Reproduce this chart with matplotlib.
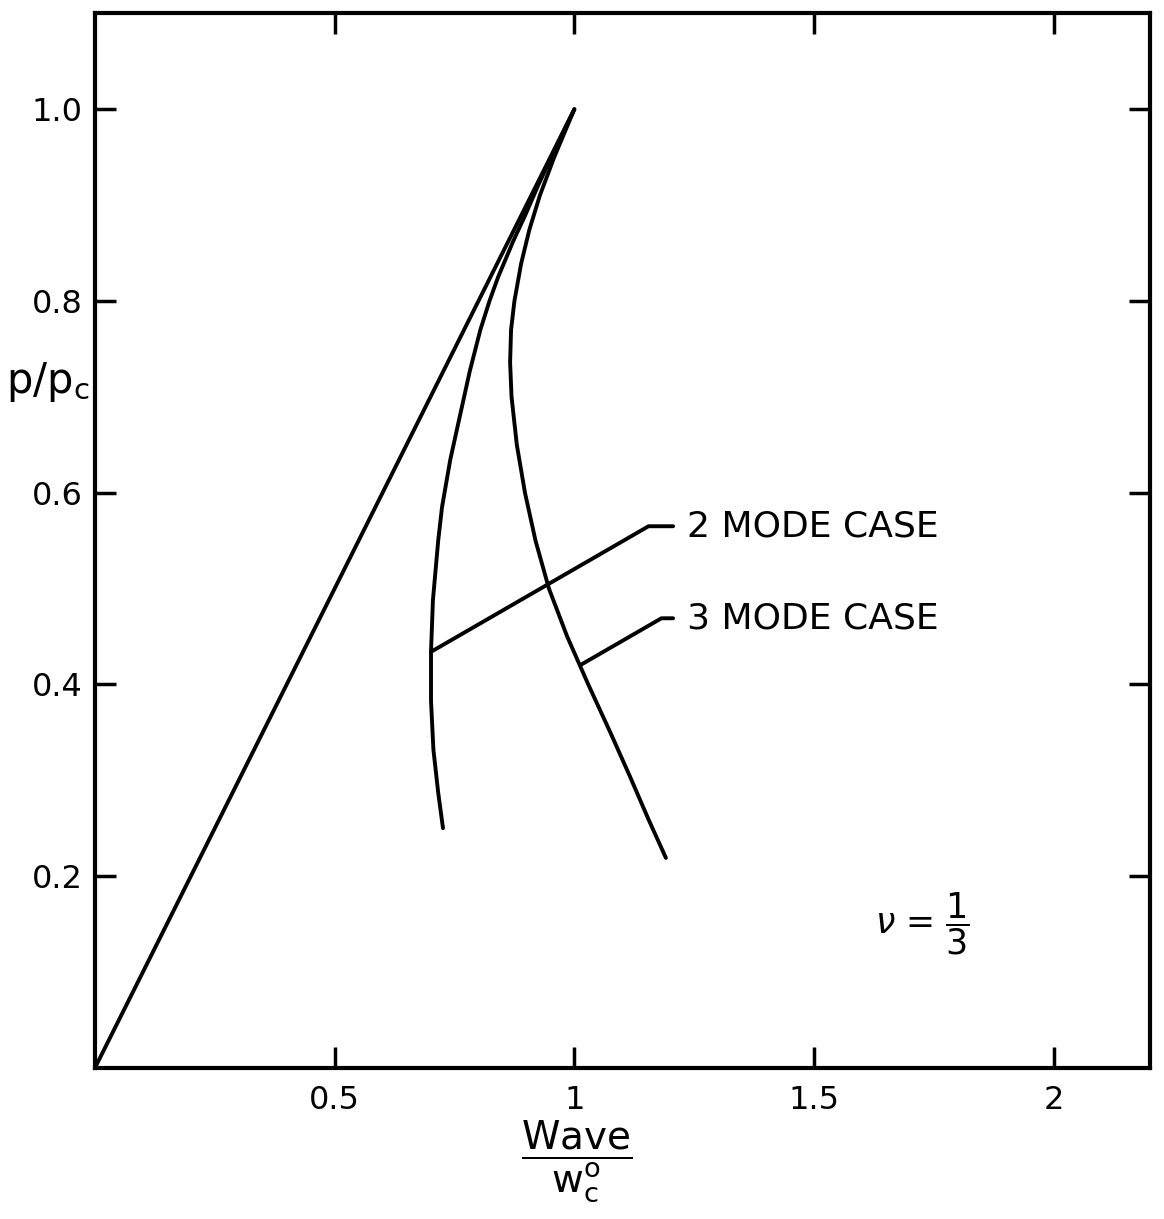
import matplotlib
matplotlib.use("Agg")
import matplotlib.pyplot as plt

# --- data ---
# straight line p/pc = Wave/wc
line_x = [0.0, 1.0]
line_y = [0.0, 1.0]

# 2 mode case
mode2_y = [0.25, 0.287, 0.332, 0.383, 0.434, 0.488, 0.55, 0.585, 0.634, 0.684,
           0.727, 0.770, 0.80, 0.825, 0.863, 0.89, 0.92, 0.96, 1.0]
mode2_x = [0.726, 0.716, 0.706, 0.701, 0.701, 0.705, 0.716, 0.724, 0.741, 0.763,
           0.782, 0.804, 0.823, 0.841, 0.873, 0.898, 0.924, 0.961, 1.0]

# 3 mode case
mode3_y = [0.219, 0.26, 0.304, 0.35, 0.40, 0.45, 0.50, 0.55, 0.60, 0.65,
           0.70, 0.736, 0.77, 0.80, 0.839, 0.874, 0.91, 0.95, 1.0]
mode3_x = [1.191, 1.154, 1.116, 1.075, 1.029, 0.985, 0.947, 0.919, 0.897, 0.880,
           0.869, 0.866, 0.868, 0.875, 0.889, 0.906, 0.928, 0.958, 1.0]

x_ticks = [0.5, 1.0, 1.5, 2.0]
x_tick_labels = ["0.5", "1", "1.5", "2"]
y_ticks = [0.2, 0.4, 0.6, 0.8, 1.0]
y_tick_labels = ["0.2", "0.4", "0.6", "0.8", "1.0"]

plt.rcParams["font.family"] = ["DejaVu Sans"]
plt.rcParams["mathtext.fontset"] = "dejavusans"

fig = plt.figure(figsize=(11.64, 12.19), dpi=100)
ax = fig.add_axes([0.0816, 0.124, 0.906, 0.865])

lw = 2.8
ax.plot(line_x, line_y, color="black", lw=lw, solid_capstyle="round")
ax.plot(mode2_x, mode2_y, color="black", lw=lw, solid_capstyle="round", solid_joinstyle="round")
ax.plot(mode3_x, mode3_y, color="black", lw=lw, solid_capstyle="round", solid_joinstyle="round")

ax.set_xlim(0, 2.2)
ax.set_ylim(0, 1.1)

for s in ax.spines.values():
    s.set_linewidth(3)

ax.set_xticks(x_ticks)
ax.set_xticklabels(x_tick_labels)
ax.set_yticks(y_ticks)
ax.set_yticklabels(y_tick_labels)
ax.tick_params(direction="in", length=15, width=2.5, labelsize=23,
               top=True, right=True)
ax.tick_params(axis="x", pad=12)
ax.tick_params(axis="y", pad=9)

# leaders
arrow_kw = dict(arrowstyle="-", lw=lw, shrinkA=8, shrinkB=0,
                connectionstyle="angle,angleA=0,angleB=30,rad=0")
i2 = mode2_y.index(0.434)
ax.annotate("2 MODE CASE", xy=(mode2_x[i2], mode2_y[i2]), xytext=(1.235, 0.565),
            va="center", ha="left", fontsize=26,
            arrowprops=dict(relpos=(0, 0.5), **arrow_kw))
# 3 mode leader meets the curve near p/pc = 0.42
ax.annotate("3 MODE CASE", xy=(1.012, 0.42), xytext=(1.235, 0.469),
            va="center", ha="left", fontsize=26,
            arrowprops=dict(relpos=(0, 0.5), **arrow_kw))

ax.text(1.725, 0.15, r"$\nu$ = $\dfrac{1}{3}$", fontsize=25, ha="center", va="center")

ax.set_ylabel(r"p/p$_\mathrm{c}$", rotation=0, fontsize=30)
ax.yaxis.set_label_coords(-0.045, 0.63)
ax.set_xlabel(r"$\dfrac{\mathrm{Wave}}{\mathrm{w}_\mathrm{c}^\mathrm{o}}$", fontsize=28)
ax.xaxis.set_label_coords(0.457, -0.048)

fig.savefig("out.png", dpi=100)
